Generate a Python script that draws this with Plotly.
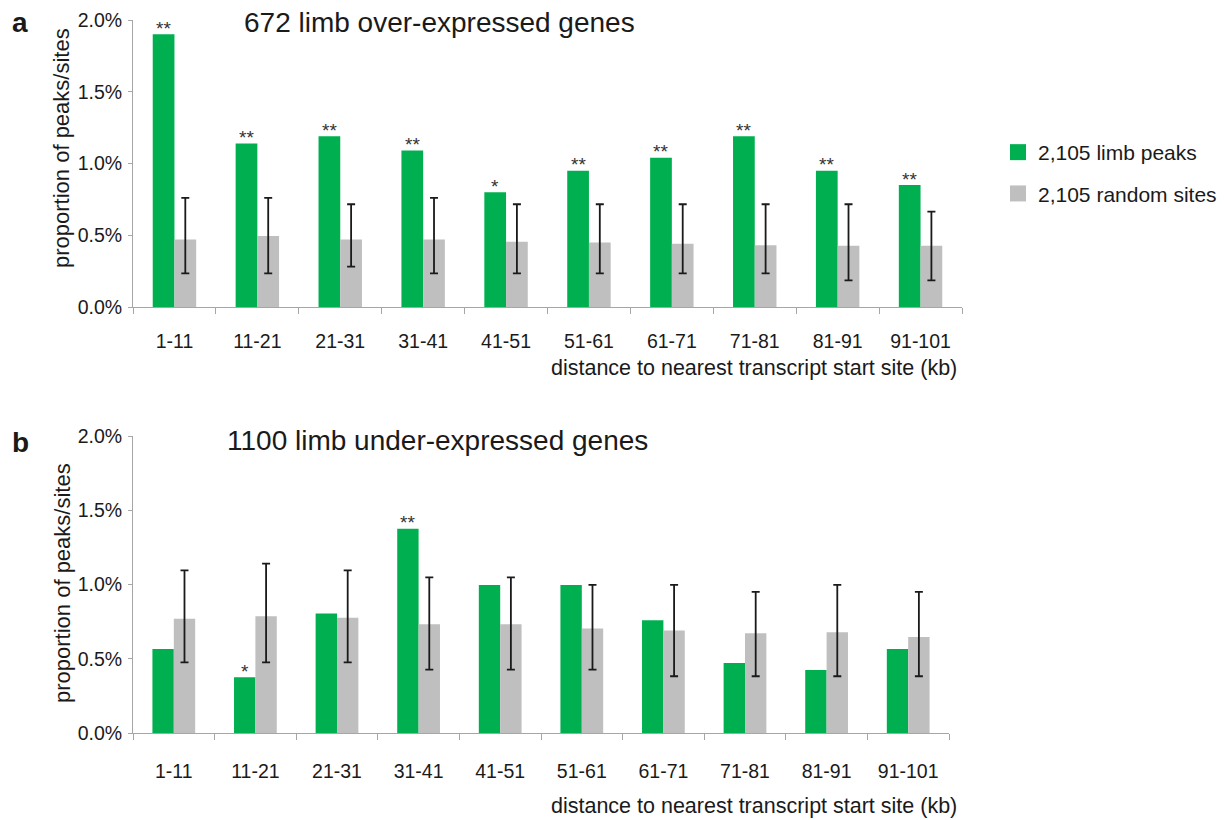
import plotly.graph_objects as go

categories = ["1-11", "11-21", "21-31", "31-41", "41-51", "51-61", "61-71", "71-81", "81-91", "91-101"]

# panel a: 672 limb over-expressed genes (values in %)
over_peaks = [1.90, 1.14, 1.19, 1.09, 0.80, 0.95, 1.04, 1.19, 0.95, 0.85]
over_random = [0.47, 0.495, 0.47, 0.47, 0.455, 0.45, 0.44, 0.43, 0.427, 0.427]
over_random_hi = [0.76, 0.76, 0.716, 0.76, 0.716, 0.716, 0.716, 0.716, 0.716, 0.664]
over_random_lo = [0.235, 0.235, 0.281, 0.235, 0.235, 0.235, 0.235, 0.235, 0.186, 0.186]
over_stars = ["**", "**", "**", "**", "*", "**", "**", "**", "**", "**"]

# panel b: 1100 limb under-expressed genes (values in %)
under_peaks = [0.566, 0.376, 0.805, 1.376, 0.996, 0.996, 0.76, 0.472, 0.425, 0.566]
under_random = [0.769, 0.787, 0.776, 0.733, 0.733, 0.704, 0.69, 0.672, 0.679, 0.647]
under_random_hi = [1.095, 1.14, 1.095, 1.048, 1.048, 0.998, 0.998, 0.951, 0.998, 0.951]
under_random_lo = [0.475, 0.475, 0.475, 0.427, 0.427, 0.427, 0.382, 0.382, 0.382, 0.382]
under_stars = ["", "*", "", "**", "", "", "", "", "", ""]

y_tick_vals = [0.0, 0.5, 1.0, 1.5, 2.0]
y_tick_text = ["0.0%", "0.5%", "1.0%", "1.5%", "2.0%"]

GREEN = "#00B050"
GREY = "#BFBFBF"
TXT = "#1a1a1a"
FONT = "Arial, 'Liberation Sans', sans-serif"
W, H = 1224, 820
BARGAP = 0.476

def px(x):
    return x / W

def py(y):
    return 1 - y / H

fig = go.Figure()

def add_panel(peaks, rand, hi, lo, stars, xa, ya, cat_px):
    fig.add_trace(go.Bar(
        x=categories, y=peaks, name="2,105 limb peaks", marker_color=GREEN,
        marker_line_width=0, xaxis=xa, yaxis=ya, showlegend=False,
        hoverinfo="x+y"))
    fig.add_trace(go.Bar(
        x=categories, y=rand, name="2,105 random sites", marker_color=GREY,
        marker_line_width=0,
        error_y=dict(type="data", symmetric=False,
                     array=[h - v for h, v in zip(hi, rand)],
                     arrayminus=[v - l for v, l in zip(rand, lo)],
                     color=TXT, thickness=1.8, width=4),
        xaxis=xa, yaxis=ya, showlegend=False, hoverinfo="x+y"))
    shift = -(1 - BARGAP) / 4 * cat_px
    for c, v, s in zip(categories, peaks, stars):
        if s:
            fig.add_annotation(x=c, y=v, xref=xa, yref=ya, text=s, showarrow=False,
                               xshift=shift, yshift=6, yanchor="middle",
                               font=dict(size=19, color="#333333", family=FONT))

add_panel(over_peaks, over_random, over_random_hi, over_random_lo, over_stars, "x", "y", (962 - 133) / 10)
add_panel(under_peaks, under_random, under_random_hi, under_random_lo, under_stars, "x2", "y2", (949 - 133) / 10)

# legend entries
fig.add_trace(go.Scatter(x=[None], y=[None], mode="markers", name="2,105 limb peaks",
                         marker=dict(symbol="square", size=20, color=GREEN), legendgroup="a"))
fig.add_trace(go.Scatter(x=[None], y=[None], mode="markers", name="2,105 random sites",
                         marker=dict(symbol="square", size=20, color=GREY), legendgroup="b"))

xcommon = dict(type="category", showline=True, linecolor="#A6A6A6", linewidth=1,
               ticks="outside", tickson="boundaries", ticklen=6, tickcolor="#A6A6A6",
               tickfont=dict(size=19.5, color=TXT, family=FONT),
               showgrid=False, zeroline=False, fixedrange=True, automargin=False)
ycommon = dict(range=[0, 2.0], tickmode="array", tickvals=y_tick_vals, ticktext=y_tick_text,
               showline=True, linecolor="#A6A6A6", linewidth=1, ticks="outside",
               ticklen=4, tickcolor="#A6A6A6", ticklabelstandoff=2,
               tickfont=dict(size=19.5, color=TXT, family=FONT),
               showgrid=False, zeroline=False, fixedrange=True, automargin=False)

fig.update_layout(
    width=W, height=H,
    paper_bgcolor="white", plot_bgcolor="white",
    margin=dict(l=0, r=0, t=0, b=0, autoexpand=False),
    barmode="group", bargap=BARGAP, bargroupgap=0,
    font=dict(family=FONT, color=TXT),
    xaxis=dict(domain=[px(133), px(962)], anchor="y", ticklabelstandoff=17, **xcommon),
    yaxis=dict(domain=[py(307), py(20)], anchor="x", **ycommon),
    xaxis2=dict(domain=[px(133), px(949)], anchor="y2", ticklabelstandoff=21, **xcommon),
    yaxis2=dict(domain=[py(733), py(436)], anchor="x2", **ycommon),
    legend=dict(x=px(998), y=py(132), xanchor="left", yanchor="top",
                font=dict(size=21, family=FONT, color=TXT), itemsizing="trace",
                tracegroupgap=11, bgcolor="rgba(0,0,0,0)"),
    showlegend=True,
)

annos = [
    dict(text="<b>a</b>", x=px(10), y=py(22), xanchor="left", yanchor="middle", font=dict(size=28)),
    dict(text="<b>b</b>", x=px(10), y=py(442), xanchor="left", yanchor="middle", font=dict(size=28)),
    dict(text="672 limb over-expressed genes", x=px(242), y=py(22), xanchor="left", yanchor="middle", font=dict(size=28)),
    dict(text="1100 limb under-expressed genes", x=px(225), y=py(440), xanchor="left", yanchor="middle", font=dict(size=28)),
    dict(text="proportion of peaks/sites", x=px(62), y=py(148), xanchor="center", yanchor="middle", textangle=-90, font=dict(size=22)),
    dict(text="proportion of peaks/sites", x=px(62), y=py(583), xanchor="center", yanchor="middle", textangle=-90, font=dict(size=22)),
    dict(text="distance to nearest transcript start site (kb)", x=px(959), y=py(368), xanchor="right", yanchor="middle", font=dict(size=21.5)),
    dict(text="distance to nearest transcript start site (kb)", x=px(959), y=py(806), xanchor="right", yanchor="middle", font=dict(size=21.5)),
]
for a in annos:
    a.update(xref="paper", yref="paper", showarrow=False)
    a["font"] = dict(family=FONT, color=TXT, **a["font"])
    fig.add_annotation(**a)

fig.write_html("out.html", config={"displayModeBar": False},
               post_script="document.body.style.margin='0';document.body.style.overflow='hidden';")
